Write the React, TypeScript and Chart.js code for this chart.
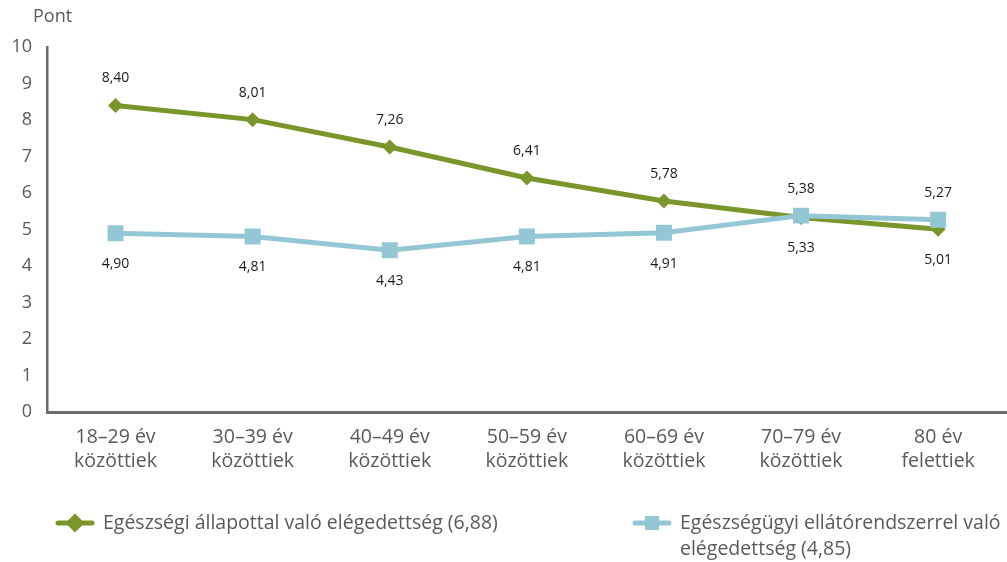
import React, { useEffect, useRef } from "react";
import { Chart, registerables } from "chart.js";

Chart.register(...registerables);

const categories: string[][] = [
  ["18–29 év", "közöttiek"],
  ["30–39 év", "közöttiek"],
  ["40–49 év", "közöttiek"],
  ["50–59 év", "közöttiek"],
  ["60–69 év", "közöttiek"],
  ["70–79 év", "közöttiek"],
  ["80 év", "felettiek"],
];
const healthStatus = [8.4, 8.01, 7.26, 6.41, 5.78, 5.33, 5.01];
const healthCare = [4.9, 4.81, 4.43, 4.81, 4.91, 5.38, 5.27];
const healthStatusLabel = "Egészségi állapottal való elégedettség (6,88)";
const healthCareLabel = ["Egészségügyi ellátórendszerrel való", "elégedettség (4,85)"];
const yAxisTitle = "Pont";

const GREEN = "#7a962b";
const BLUE = "#94c7d6";
const AXIS_TEXT = "#595959";
const FONT = "'Open Sans', sans-serif";

const fmt = (v: number) => v.toFixed(2).replace(".", ",");

const overlayPlugin = {
  id: "overlay",
  afterDatasetsDraw(chart: any) {
    const ctx = chart.ctx as CanvasRenderingContext2D;
    ctx.save();
    ctx.font = `14px ${FONT}`;
    ctx.fillStyle = "#1a1a1a";
    ctx.textAlign = "center";
    ctx.textBaseline = "middle";
    const m0 = chart.getDatasetMeta(0);
    const m1 = chart.getDatasetMeta(1);
    const d0 = chart.data.datasets[0].data as number[];
    const d1 = chart.data.datasets[1].data as number[];
    for (let i = 0; i < d0.length; i++) {
      const a = m0.data[i];
      const b = m1.data[i];
      const aAbove = d0[i] >= d1[i];
      ctx.fillText(fmt(d0[i]), a.x, a.y + (aAbove ? -27 : 31));
      ctx.fillText(fmt(d1[i]), b.x, b.y + (aAbove ? 31 : -27));
    }
    ctx.restore();
  },
  afterDraw(chart: any) {
    const ctx = chart.ctx as CanvasRenderingContext2D;
    ctx.save();
    ctx.font = `18px ${FONT}`;
    ctx.fillStyle = AXIS_TEXT;
    ctx.textAlign = "left";
    ctx.textBaseline = "middle";
    ctx.fillText(yAxisTitle, 33, 17);

    const drawSymbol = (cx: number, cy: number, color: string, style: string, r: number) => {
      ctx.strokeStyle = color;
      ctx.lineWidth = 5;
      ctx.lineCap = "round";
      ctx.beginPath();
      ctx.moveTo(cx - 17, cy);
      ctx.lineTo(cx + 17, cy);
      ctx.stroke();
      ctx.fillStyle = color;
      ctx.beginPath();
      if (style === "rectRot") {
        ctx.moveTo(cx, cy - r);
        ctx.lineTo(cx + r, cy);
        ctx.lineTo(cx, cy + r);
        ctx.lineTo(cx - r, cy);
        ctx.closePath();
      } else {
        ctx.rect(cx - r, cy - r, 2 * r, 2 * r);
      }
      ctx.fill();
    };
    drawSymbol(75, 523, GREEN, "rectRot", 9.5);
    drawSymbol(652, 523, BLUE, "rect", 7);
    ctx.fillStyle = AXIS_TEXT;
    ctx.font = `19.5px ${FONT}`;
    ctx.textAlign = "left";
    ctx.textBaseline = "middle";
    ctx.fillText(healthStatusLabel, 103, 523);
    ctx.fillText(healthCareLabel[0], 680, 523);
    ctx.fillText(healthCareLabel[1], 680, 549);
    ctx.restore();
  },
};

export default function App() {
  const ref = useRef<HTMLCanvasElement | null>(null);
  useEffect(() => {
    if (!ref.current) return;
    const chart = new Chart(ref.current, {
      type: "line",
      data: {
        labels: categories,
        datasets: [
          {
            label: healthStatusLabel,
            data: healthStatus,
            borderColor: GREEN,
            backgroundColor: GREEN,
            borderWidth: 5,
            pointStyle: "rectRot",
            pointRadius: 7.5,
            pointBorderWidth: 0,
            pointHoverRadius: 7.5,
            order: 1,
          },
          {
            label: healthCareLabel.join(" "),
            data: healthCare,
            borderColor: BLUE,
            backgroundColor: BLUE,
            borderWidth: 5,
            pointStyle: "rect",
            pointRadius: 11.3,
            pointBorderWidth: 0,
            pointHoverRadius: 11.3,
            order: 0,
          },
        ],
      },
      options: {
        responsive: false,
        animation: false,
        layout: { padding: { top: 47, left: 0, right: 0, bottom: 0 } },
        plugins: {
          legend: { display: false },
          tooltip: { enabled: false },
          title: { display: false },
        },
        scales: {
          x: {
            offset: true,
            grid: { display: false, drawTicks: false, offset: true },
            border: { display: true, color: "#6b6b6b", width: 3 },
            ticks: {
              color: AXIS_TEXT,
              font: { family: FONT, size: 19.5, lineHeight: 1.2 },
              padding: 14,
              maxRotation: 0,
              autoSkip: false,
            },
            afterFit: (scale: any) => {
              scale.height = 562 - 412;
            },
          },
          y: {
            min: 0,
            max: 10,
            grid: { display: false, drawTicks: false },
            border: { display: true, color: "#6b6b6b", width: 2.5 },
            ticks: {
              stepSize: 1,
              color: AXIS_TEXT,
              font: { family: FONT, size: 18 },
              padding: 15,
            },
            afterFit: (scale: any) => {
              scale.width = 47;
            },
          },
        },
      },
      plugins: [overlayPlugin],
    });
    return () => chart.destroy();
  }, []);
  return (
    <div
      style={{
        position: "absolute",
        left: 0,
        top: 0,
        width: 1007,
        height: 562,
        overflow: "hidden",
        background: "#fff",
      }}
    >
      <canvas ref={ref} width={1018} height={562} style={{ display: "block" }} />
    </div>
  );
}
